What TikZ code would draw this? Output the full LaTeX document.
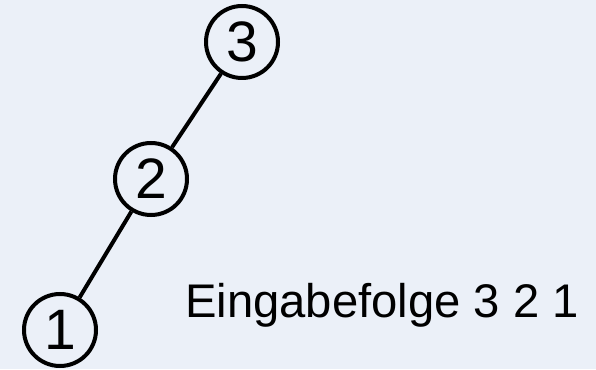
\documentclass[tikz,border=0pt]{standalone}
\usepackage{fontspec}
\setmainfont{Liberation Sans}
\definecolor{bg}{RGB}{235,240,248}
\begin{document}
\begin{tikzpicture}[x=1pt,y=1pt,
  tn/.style={circle,draw=black,line width=4pt,minimum size=72pt,inner sep=0pt,font=\fontsize{57}{57}\selectfont},
  edge/.style={line width=4pt,black}]
\fill[bg] (0,0) rectangle (596,369);
\useasboundingbox (0,0) rectangle (596,369);
\node[tn] (n3) at (242,327) {3};
\node[tn] (n2) at (151,190) {2};
\node[tn] (n1) at (60,39) {1};
\draw[edge] (n3) -- (n2);
\draw[edge] (n2) -- (n1);
\node[anchor=base west,inner sep=0pt,font=\fontsize{47.2}{47.2}\selectfont] (lbl) at (185,51) {Eingabefolge 3 2 1};
\end{tikzpicture}
\end{document}
